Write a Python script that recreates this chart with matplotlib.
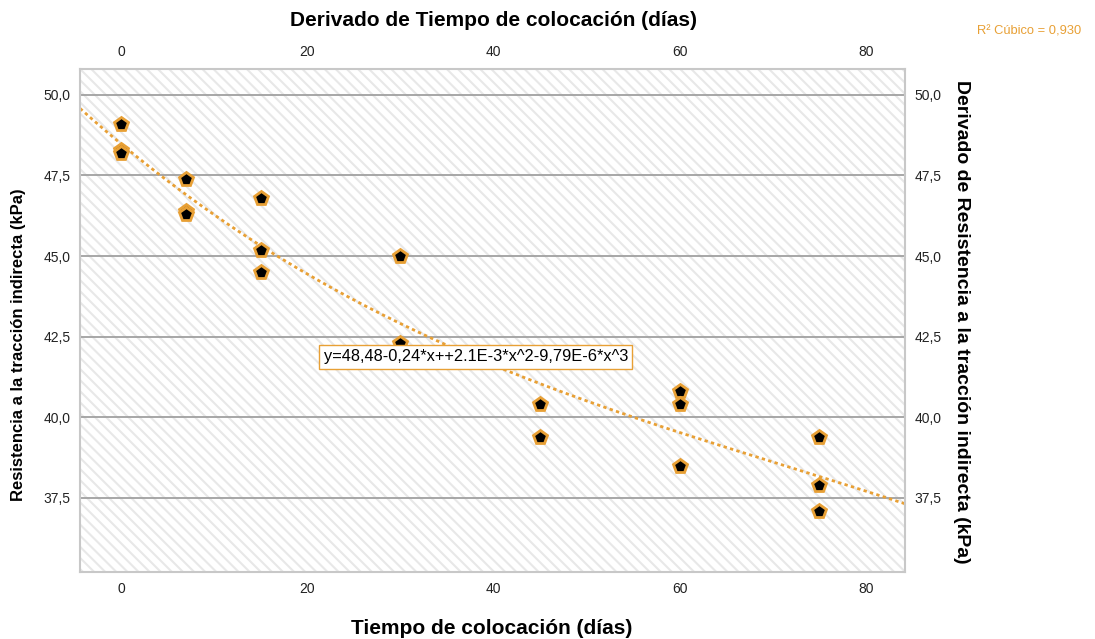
import numpy as np
import matplotlib
matplotlib.use('Agg')
import matplotlib.pyplot as plt
from matplotlib.patches import Rectangle

# datos
dias = [0, 0, 0, 7, 7, 7, 15, 15, 15, 30, 30, 45, 45, 60, 60, 60, 75, 75, 75]
resistencia = [49.1, 48.3, 48.2, 47.4, 46.4, 46.3, 46.8, 45.2, 44.5,
               45.0, 42.3, 40.4, 39.4, 40.8, 40.4, 38.5, 39.4, 37.9, 37.1]

# ajuste cubico reportado: b0, b1, b2, b3
coef = [48.48, -0.24, 2.1e-3, -9.79e-6]
r2_label = "R² Cúbico = 0,930"
eq_label = "y=48,48-0,24*x++2.1E-3*x^2-9,79E-6*x^3"

xticks = [0, 20, 40, 60, 80]
yticks = [37.5, 40.0, 42.5, 45.0, 47.5, 50.0]

ORANGE = '#E8A035'

plt.rcParams['font.family'] = ['Liberation Sans', 'DejaVu Sans']
plt.rcParams['hatch.color'] = '#e8e8e8'
plt.rcParams['hatch.linewidth'] = 1.5

fig = plt.figure(figsize=(10.95, 6.39), dpi=100)
ax = fig.add_axes([0.0731, 0.1049, 0.7534, 0.7871])
ax.set_xlim(-4.4, 84.2)
ax.set_ylim(35.2, 50.8)

# fondo rayado
bg = Rectangle((0, 0), 1, 1, transform=ax.transAxes, facecolor='white',
               edgecolor='#e8e8e8', hatch='\\\\\\', linewidth=0, zorder=0)
ax.add_patch(bg)

for yv in yticks:
    ax.axhline(yv, color='#a0a0a0', linewidth=1.3, zorder=1)

xs = np.linspace(-4.4, 84.2, 300)
ys = coef[0] + coef[1] * xs + coef[2] * xs**2 + coef[3] * xs**3
ax.plot(xs, ys, linestyle=(0, (1.2, 1.2)), color=ORANGE, linewidth=2, zorder=2)

ax.plot(dias, resistencia, linestyle='none', marker='p', markersize=10,
        markerfacecolor='black', markeredgecolor=ORANGE, markeredgewidth=2,
        zorder=3)

ax.text(21.75, 41.87, eq_label, fontsize=11.8, va='center', ha='left', zorder=4,
        bbox=dict(boxstyle='square,pad=0.25', facecolor='white',
                  edgecolor=ORANGE, linewidth=1))

for sp in ax.spines.values():
    sp.set_color('#c8c8c8')
    sp.set_linewidth(1.5)

def fmt(v):
    return f"{v:.1f}".replace('.', ',')

ax.set_xticks(xticks)
ax.set_xticklabels([str(t) for t in xticks])
ax.set_yticks(yticks)
ax.set_yticklabels([fmt(t) for t in yticks])
ax.tick_params(axis='both', length=0, labelsize=10, pad=7, colors='#222222')
ax.tick_params(axis='x', top=True, labeltop=True)
ax.tick_params(axis='y', right=True, labelright=True)

fig.text(0.449, 0.017, "Tiempo de colocación (días)", fontsize=15,
         fontweight='bold', ha='center', va='center')
fig.text(0.0165, 0.46, "Resistencia a la tracción indirecta (kPa)",
         fontsize=12, fontweight='bold', ha='center', va='center',
         rotation=90)
fig.text(0.451, 0.968, "Derivado de Tiempo de colocación (días)",
         fontsize=15, fontweight='bold', ha='center', va='center')
fig.text(0.878, 0.497, "Derivado de Resistencia a la tracción indirecta (kPa)",
         fontsize=14, fontweight='bold', ha='center', va='center', rotation=-90)
fig.text(0.94, 0.95, r2_label, fontsize=9.3, color=ORANGE, ha='center',
         va='center')

fig.savefig('out.png', dpi=100)
